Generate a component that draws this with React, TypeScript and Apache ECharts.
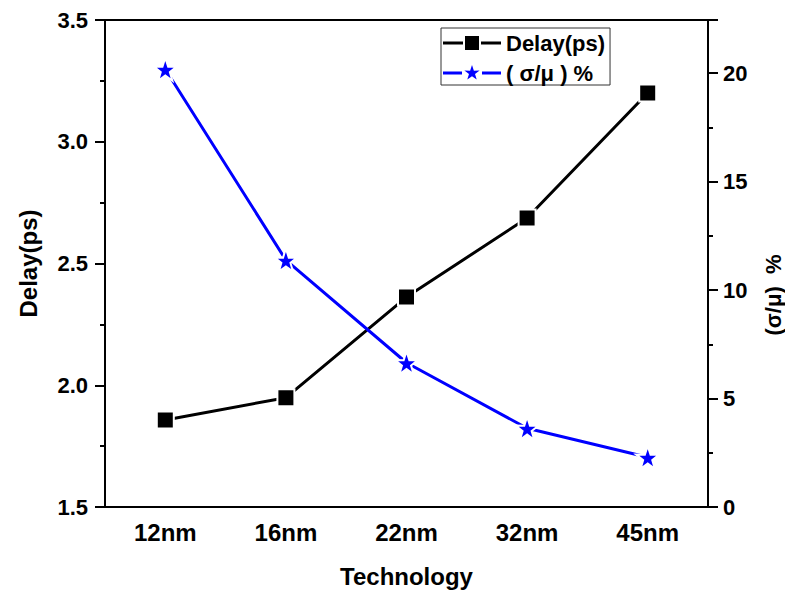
import React, { useEffect, useRef } from "react";
import * as echarts from "echarts";

const categories = ["12nm", "16nm", "22nm", "32nm", "45nm"];
const delayValues = [1.857, 1.949, 2.362, 2.687, 3.2];
const sigmaValues = [20.18, 11.38, 6.65, 3.63, 2.29];
const leftTicks = { min: 1.5, max: 3.5, interval: 0.5 };
const rightTicks = { min: 0, max: 22.45, interval: 5 };

const FONT = "'Liberation Sans', Arial, sans-serif";
const STAR =
  "path://M50,0 L61.8,35.3 L97.6,34.5 L68.8,56.2 L79.4,90.5 L50,70 L20.6,90.5 L31.2,56.2 L2.4,34.5 L38.2,35.3 Z";
// legend icons in a 58x16 box: line – marker – line
const LEG_SQUARE =
  "path://M0,0 L0.01,0 L0.01,0.01 Z M58,16 L57.99,16 L57.99,15.99 Z " +
  "M0,6.5 L20,6.5 L20,9.5 L0,9.5 Z M22,1 L36,1 L36,15 L22,15 Z M38,6.5 L58,6.5 L58,9.5 L38,9.5 Z";
const LEG_STAR =
  "path://M0,0 L0.01,0 L0.01,0.01 Z M58,16 L57.99,16 L57.99,15.99 Z " +
  "M0,6.5 L19,6.5 L19,9.5 L0,9.5 Z M39,6.5 L58,6.5 L58,9.5 L39,9.5 Z " +
  "M29,0 L30.89,5.65 L36.62,5.52 L32.01,8.99 L33.7,14.48 L29,11.2 L24.3,14.48 L25.99,8.99 L21.38,5.52 L27.11,5.65 Z";

export default function App() {
  const ref = useRef<HTMLDivElement>(null);
  useEffect(() => {
    if (!ref.current) return;
    const chart = echarts.init(ref.current, null, { renderer: "svg" });
    const lineStyle = { color: "#000", width: 2 };
    const labelStyle = { color: "#000", fontFamily: FONT, fontWeight: "bold" as const, fontSize: 22 };
    chart.setOption({
      animation: false,
      backgroundColor: "#fff",
      grid: { left: 105, right: 77, top: 20, bottom: 87 },
      legend: {
        orient: "vertical",
        left: 441,
        top: 28,
        padding: [4, 5, 1, 2],
        itemGap: 8,
        itemWidth: 58,
        itemHeight: 16,
        borderColor: "#333",
        borderWidth: 1,
        itemStyle: { borderWidth: 0 },
        textStyle: { ...labelStyle, fontSize: 22 },
        data: [
          { name: "Delay(ps)", icon: LEG_SQUARE },
          { name: "( σ/μ ) %", icon: LEG_STAR },
        ],
      },
      xAxis: [
        {
          type: "category",
          data: categories,
          position: "bottom",
          boundaryGap: true,
          axisLine: { lineStyle },
          axisTick: { alignWithLabel: true, length: 10, lineStyle },
          axisLabel: { ...labelStyle, fontSize: 24, margin: 13 },
          name: "Technology",
          nameLocation: "middle",
          nameGap: 57,
          nameTextStyle: { ...labelStyle, fontSize: 24 },
        },
        {
          type: "category",
          data: categories,
          position: "bottom",
          gridIndex: 0,
          axisLine: { show: false },
          axisTick: { length: 7, lineStyle },
          axisLabel: { show: false },
        },
        {
          type: "category",
          data: categories,
          position: "top",
          axisLine: { lineStyle },
          axisTick: { alignWithLabel: true, inside: true, length: 8, lineStyle },
          axisLabel: { show: false },
        },
        {
          type: "category",
          data: categories,
          position: "top",
          axisLine: { show: false },
          axisTick: { inside: true, length: 5, lineStyle },
          axisLabel: { show: false },
        },
      ],
      yAxis: [
        {
          type: "value",
          position: "left",
          ...leftTicks,
          splitLine: { show: false },
          axisLine: { show: true, lineStyle },
          axisTick: { show: true, length: 10, lineStyle },
          minorTick: { show: true, splitNumber: 2, length: 5, lineStyle },
          axisLabel: { ...labelStyle, margin: 17, formatter: (v: number) => v.toFixed(1) },
          name: "Delay(ps)",
          nameLocation: "middle",
          nameGap: 65,
          nameTextStyle: { ...labelStyle, fontSize: 24 },
        },
        {
          type: "value",
          position: "right",
          ...rightTicks,
          splitLine: { show: false },
          axisLine: { show: true, lineStyle },
          axisTick: { show: true, length: 10, lineStyle },
          minorTick: { show: true, splitNumber: 2, length: 5, lineStyle },
          axisLabel: {
            ...labelStyle,
            margin: 15,
            showMaxLabel: false,
            formatter: (v: number) => (v % 5 === 0 ? String(v) : ""),
          },
        },
      ],
      graphic: [
        {
          type: "text",
          x: 773,
          y: 295,
          rotation: Math.PI / 2,
          style: {
            text: "(σ/μ)  %",
            fill: "#000",
            font: `bold 22px ${FONT}`,
            align: "center",
            verticalAlign: "middle",
          },
        },
      ],
      series: [
        {
          name: "Delay(ps)",
          type: "line",
          xAxisIndex: 0,
          yAxisIndex: 0,
          data: delayValues,
          symbol: "rect",
          symbolSize: 17,
          lineStyle: { color: "#000", width: 3 },
          itemStyle: { color: "#000", borderColor: "#fff", borderWidth: 2 },
        },
        {
          name: "( σ/μ ) %",
          type: "line",
          xAxisIndex: 0,
          yAxisIndex: 1,
          data: sigmaValues,
          symbol: STAR,
          symbolSize: 23,
          lineStyle: { color: "#0000ff", width: 3 },
          itemStyle: { color: "#0000ff", borderColor: "#fff", borderWidth: 2 },
        },
      ],
    });
    return () => chart.dispose();
  }, []);
  return (
    <div
      ref={ref}
      style={{ position: "fixed", left: 0, top: 0, width: 785, height: 594, background: "#fff" }}
    />
  );
}
